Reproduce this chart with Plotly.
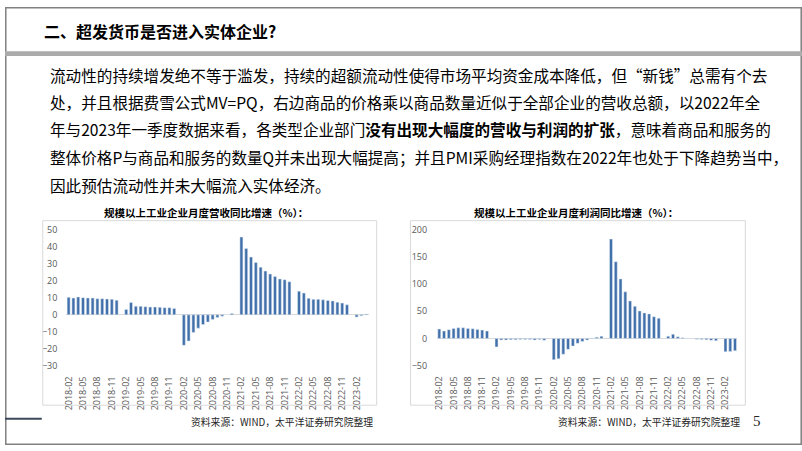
import pandas as pd
import plotly.graph_objects as go

# ---------------- data ----------------
months = [p.strftime("%Y-%m") for p in pd.period_range("2018-02", "2023-04", freq="M")]

revenue = [
    10.3, 9.9, 10.5, 10.1, 9.9, 9.9, 9.5, 9.5, 9.3, 9.1, 8.6,
    None,
    3.2, 7.2, 5.1, 5.0, 4.8, 4.6, 4.6, 4.4, 4.2, 4.2, 3.8,
    None,
    -17.9, -15.4, -10.3, -7.8, -5.7, -4.2, -2.7, -1.5, -0.8, 0.1, 0.8,
    None,
    45.7, 39.0, 33.9, 30.7, 28.0, 25.7, 24.0, 22.5, 21.1, 20.6, 19.4,
    None,
    13.9, 12.8, 9.7, 9.1, 9.1, 8.8, 8.4, 8.2, 7.4, 6.9, 5.9,
    None,
    -1.3, -0.6, 0.5,
]

profit = [
    17.3, 13.7, 16.1, 18.5, 19.6, 19.6, 18.5, 17.9, 16.7, 15.5, 13.7,
    None,
    -15.5, -3.0, -3.0, -2.3, -2.4, -1.8, -1.8, -2.1, -2.9, -2.1, -3.3,
    None,
    -39.0, -37.5, -29.0, -20.0, -14.0, -9.0, -5.5, -3.0, 0.7, 2.4, 4.1,
    None,
    182.7, 141.0, 109.5, 85.7, 69.0, 59.0, 50.6, 47.0, 45.2, 40.0, 37.0,
    None,
    4.2, 7.7, 3.0, 1.2, 0.6, -0.6, -1.5, -2.0, -2.5, -3.5, -4.0,
    None,
    -24.4, -23.8, -22.6,
]

tick_labels = months[0:61:3]

slide_title = "二、超发货币是否进入实体企业?"
para_lines = [
    "流动性的持续增发绝不等于滥发，持续的超额流动性使得市场平均资金成本降低，但“新钱”总需有个去",
    "处，并且根据费雪公式MV=PQ，右边商品的价格乘以商品数量近似于全部企业的营收总额，以2022年全",
    "年与2023年一季度数据来看，各类型企业部门<b>没有出现大幅度的营收与利润的扩张</b>，意味着商品和服务的",
    "整体价格P与商品和服务的数量Q并未出现大幅提高；并且PMI采购经理指数在2022年也处于下降趋势当中，",
    "因此预估流动性并未大幅流入实体经济。",
]
left_title = "规模以上工业企业月度营收同比增速（%）："
right_title = "规模以上工业企业月度利润同比增速（%）："
source_text = "资料来源：WIND，太平洋证券研究院整理"
page_no = "5"

# ---------------- layout helpers ----------------
W, H = 802, 451
def fx(x):
    return x / W
def fy(y):
    return 1 - y / H

BAR = "#4170aa"
CJK = "Noto Sans CJK SC"
TICKF = dict(family="Open Sans", size=9, color="#595959")

fig = go.Figure()
fig.add_trace(go.Bar(x=months, y=revenue, marker_color=BAR, xaxis="x", yaxis="y",
                     showlegend=False, hoverinfo="x+y"))
fig.add_trace(go.Bar(x=months, y=profit, marker_color=BAR, xaxis="x2", yaxis="y2",
                     showlegend=False, hoverinfo="x+y"))

xcommon = dict(type="category", categoryorder="array", categoryarray=months,
               range=[-0.5, len(months) - 0.5], tickmode="array",
               tickvals=tick_labels, ticktext=tick_labels, tickangle=-90,
               tickfont=dict(family="Open Sans", size=9, color="#595959"),
               showgrid=False, showline=False, ticks="outside", ticklen=6,
               tickcolor="rgba(0,0,0,0)", zeroline=False, fixedrange=True)

fig.update_layout(
    width=W, height=H, margin=dict(l=0, r=0, t=0, b=0),
    paper_bgcolor="white", plot_bgcolor="white",
    bargap=0.38,
    xaxis=dict(domain=[fx(61.6), fx(365.9)], anchor="y", **xcommon),
    yaxis=dict(domain=[fy(369.6), fy(229.3)], anchor="x", range=[-30, 50],
               tickmode="array", tickvals=list(range(-30, 51, 10)),
               tickfont=TICKF, showgrid=False, zeroline=True,
               zerolinecolor="#d9d9d9", zerolinewidth=1, ticks="outside",
               ticklen=6, tickcolor="rgba(0,0,0,0)", fixedrange=True),
    xaxis2=dict(domain=[fx(434.6), fx(737.0)], anchor="y2", **xcommon),
    yaxis2=dict(domain=[fy(369.3), fy(229.3)], anchor="x2", range=[-50, 200],
                tickmode="array", tickvals=list(range(-50, 201, 50)),
                tickfont=TICKF, showgrid=False, zeroline=True,
                zerolinecolor="#d9d9d9", zerolinewidth=1, ticks="outside",
                ticklen=7, tickcolor="rgba(0,0,0,0)", fixedrange=True),
)

shapes = [
    # outer slide frame
    dict(type="rect", xref="paper", yref="paper", x0=fx(0.8), x1=fx(801.2),
         y0=fy(450.2), y1=fy(0.8), line=dict(color="#808080", width=1.5)),
    # gray band under title
    dict(type="rect", xref="paper", yref="paper", x0=0, x1=1, y0=fy(50.5), y1=fy(45.5),
         fillcolor="#ababab", line=dict(width=0)),
    # chart boxes
    dict(type="rect", xref="paper", yref="paper", x0=fx(38), x1=fx(374),
         y0=fy(410), y1=fy(220), line=dict(color="#d9d9d9", width=1)),
    dict(type="rect", xref="paper", yref="paper", x0=fx(408), x1=fx(745),
         y0=fy(410), y1=fy(220), line=dict(color="#d9d9d9", width=1)),
    # dark line bottom left
    dict(type="line", xref="paper", yref="paper", x0=0, x1=fx(37),
         y0=fy(424), y1=fy(424), line=dict(color="#3b4a5a", width=2)),
]

ann = []
ann.append(dict(text="<b>" + slide_title + "</b>", x=fx(37), y=fy(25), xanchor="left",
                yanchor="middle", showarrow=False, xref="paper", yref="paper",
                font=dict(family=CJK, size=16, color="#000000")))
line_y = [70, 98, 126, 154.5, 183]
for t, yy in zip(para_lines, line_y):
    ann.append(dict(text=t, x=fx(43), y=fy(yy), xanchor="left", yanchor="middle",
                    showarrow=False, xref="paper", yref="paper",
                    font=dict(family=CJK, size=15.6, color="#000000")))
ann.append(dict(text="<b>" + left_title + "</b>", x=fx(202), y=fy(212), xanchor="center",
                yanchor="middle", showarrow=False, xref="paper", yref="paper",
                font=dict(family=CJK, size=10.5, color="#000000")))
ann.append(dict(text="<b>" + right_title + "</b>", x=fx(575), y=fy(212), xanchor="center",
                yanchor="middle", showarrow=False, xref="paper", yref="paper",
                font=dict(family=CJK, size=10.5, color="#000000")))
for xr in (372, 742):
    ann.append(dict(text=source_text, x=fx(xr), y=fy(427), xanchor="right",
                    yanchor="middle", showarrow=False, xref="paper", yref="paper",
                    font=dict(family=CJK, size=9.8, color="#262626")))
ann.append(dict(text=page_no, x=fx(757), y=fy(426), xanchor="center", yanchor="middle",
                showarrow=False, xref="paper", yref="paper",
                font=dict(family="Liberation Serif", size=15, color="#262626")))

fig.update_layout(shapes=shapes, annotations=ann)
fig.write_html("out.html")
